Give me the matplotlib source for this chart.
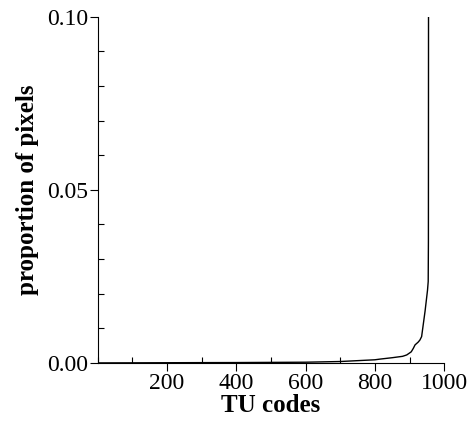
import numpy as np
import matplotlib.pyplot as plt
from matplotlib.ticker import MultipleLocator

plt.rcParams['font.family'] = ['Liberation Serif', 'DejaVu Serif']

# TU codes sorted by proportion of pixels
codes = [1, 100, 200, 300, 400, 500, 600, 700, 800, 815, 850, 880,
         892, 905, 911, 916, 925, 930, 935, 945, 952, 954, 954.6, 955]
props = [0.0, 0.00002, 0.00005, 0.00008, 0.0001, 0.00015, 0.0002,
         0.0004, 0.0009, 0.0011, 0.0015, 0.0019, 0.0023, 0.0032,
         0.0042, 0.0052, 0.006, 0.0066, 0.0076, 0.0150, 0.0210,
         0.0235, 0.035, 0.12]
xticks = [200, 400, 600, 800, 1000]
yticks = [0.0, 0.05, 0.10]
ytick_labels = ['0.00', '0.05', '0.10']

fig = plt.figure(figsize=(4.68, 4.21), dpi=100)
ax = fig.add_axes([0.209, 0.138, 0.740, 0.822])
ax.plot(codes, props, color='black', lw=1.0)

ax.set_xlim(0, 1000)
ax.set_ylim(0, 0.10)
ax.set_xticks(xticks)
ax.set_yticks(yticks, ytick_labels)
ax.xaxis.set_minor_locator(MultipleLocator(100))
ax.yaxis.set_minor_locator(MultipleLocator(0.01))
ax.tick_params(which='major', direction='out', length=6, width=0.8,
               labelsize=17, pad=1)
ax.tick_params(which='minor', direction='in', length=4, width=0.8)
for s in ['top', 'right']:
    ax.spines[s].set_visible(False)

ax.set_xlabel('TU codes', fontsize=18, fontweight='bold', labelpad=0)
ax.set_ylabel('proportion of pixels', fontsize=18, fontweight='bold',
              labelpad=6)

fig.savefig('out.png', dpi=100)
